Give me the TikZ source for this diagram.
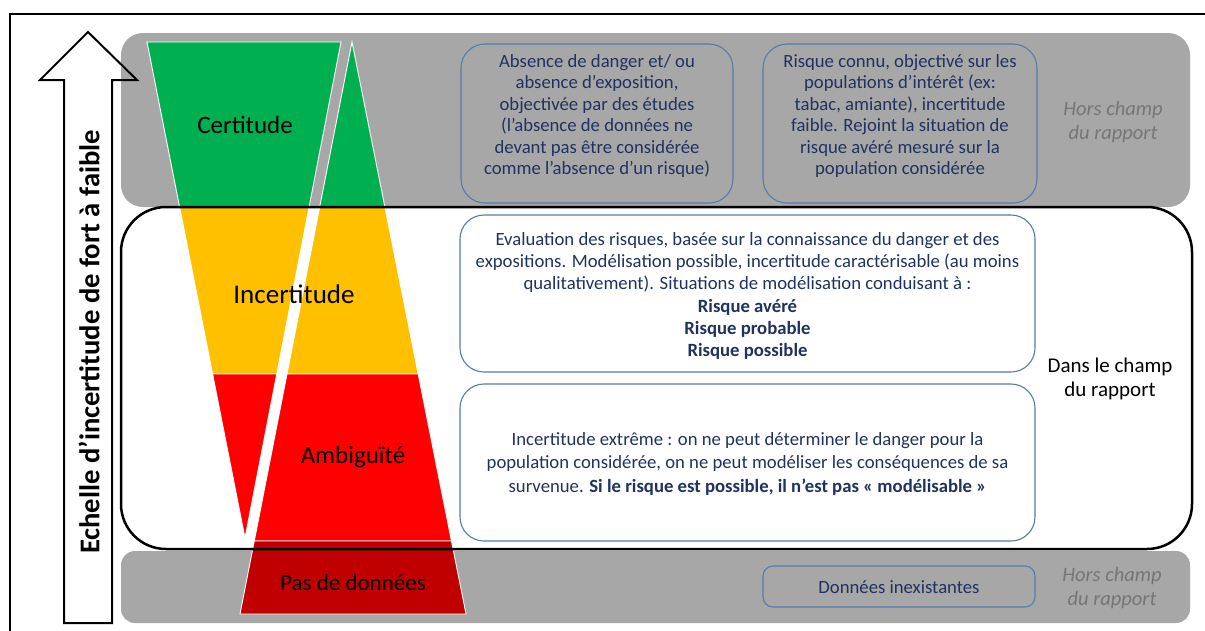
\documentclass[tikz,border=0pt]{standalone}
\usepackage{fontspec}
\setmainfont{Carlito}
\usetikzlibrary{calc}
\definecolor{bandgray}{RGB}{167,167,167}
\definecolor{navy}{RGB}{31,50,96}
\definecolor{boxblue}{RGB}{84,124,172}
\definecolor{hcgray}{RGB}{118,118,118}
\definecolor{cgreen}{RGB}{0,176,80}
\definecolor{cyellow}{RGB}{255,192,0}
\definecolor{cred}{RGB}{255,0,0}
\definecolor{cdred}{RGB}{192,0,0}
\begin{document}
\begin{tikzpicture}[x=1pt,y=-1pt,
  boxtxt/.style={text=navy, font=\fontsize{18.7}{21.5}\selectfont, align=center, inner sep=0pt},
  infobox/.style={draw=boxblue, line width=1.1pt, rounded corners=24pt},
  seg/.style={draw=white, line width=0.9pt},
  lvl/.style={inner sep=0pt, text=black},
  hors/.style={text=hcgray, font=\fontsize{20.5}{23.5}\selectfont\itshape, align=center},
]
\useasboundingbox (0,0) rectangle (1205,630);
\fill[white] (0,0) rectangle (1205,630);
% outer frame
\draw[line width=2.4pt] (10,660) -- (10,14) -- (1240,14);
% gray bands
\fill[bandgray, rounded corners=22pt] (121,33) rectangle (1190,207);
\fill[bandgray, rounded corners=14pt] (121,551) rectangle (1190,623);
% key points of the two funnel shapes
\coordinate (LTL) at (147,42);
\coordinate (LTR) at (341,42);
\coordinate (LAP) at (245,538);
\coordinate (RAP) at (352,42);
\coordinate (RBL) at (240,614);
\coordinate (RBR) at (466,614);
% left shape (pointing down)
\path[seg, fill=cgreen] (LTL) -- (LTR) -- ($(LTR)!0.33266!(LAP)$) -- ($(LTL)!0.33266!(LAP)$) -- cycle;
\path[seg, fill=cyellow] ($(LTL)!0.33266!(LAP)$) -- ($(LTR)!0.33266!(LAP)$) -- ($(LTR)!0.66935!(LAP)$) -- ($(LTL)!0.66935!(LAP)$) -- cycle;
\path[seg, fill=cred] ($(LTL)!0.66935!(LAP)$) -- ($(LTR)!0.66935!(LAP)$) -- (LAP) -- cycle;
% right shape (pointing up)
\path[seg, fill=cgreen] (RAP) -- ($(RAP)!0.28846!(RBR)$) -- ($(RAP)!0.28846!(RBL)$) -- cycle;
\path[seg, fill=cyellow] ($(RAP)!0.28846!(RBL)$) -- ($(RAP)!0.28846!(RBR)$) -- ($(RAP)!0.58042!(RBR)$) -- ($(RAP)!0.58042!(RBL)$) -- cycle;
\path[seg, fill=cred] ($(RAP)!0.58042!(RBL)$) -- ($(RAP)!0.58042!(RBR)$) -- ($(RAP)!0.87238!(RBR)$) -- ($(RAP)!0.87238!(RBL)$) -- cycle;
\path[seg, fill=cdred] ($(RAP)!0.87238!(RBL)$) -- ($(RAP)!0.87238!(RBR)$) -- (RBR) -- (RBL) -- cycle;
% level labels
\node[lvl, font=\fontsize{25}{30}\selectfont] (certitude) at (245,125) {Certitude};
\node[lvl, font=\fontsize{27}{32}\selectfont] (incertitude) at (294,294) {Incertitude};
\node[lvl, font=\fontsize{25}{30}\selectfont] (ambiguite) at (353,457) {Ambiguïté};
\node[lvl, font=\fontsize{23}{28}\selectfont] (pasdonnees) at (353,583) {Pas de données};
% in-scope rounded frame
\draw[line width=2.5pt, rounded corners=45pt] (121,207) rectangle (1192,549);
% scale arrow
\draw[line width=2pt, line join=miter] (64,623) -- (64,80) -- (40,80) -- (88,32) -- (137,80) -- (112,80) -- (112,623) -- cycle;
\node[rotate=90, font=\fontsize{28.6}{32}\selectfont\bfseries, inner sep=0pt] (echelle) at (89,342) {Echelle d’incertitude de fort à faible};
% info boxes
\node[infobox, minimum width=272pt, minimum height=159pt] (b1) at (597,123.5) {};
\node[boxtxt] (t1) at (597,116)
 {Absence de danger et/ ou\\absence d’exposition,\\objectivée par des études\\(l’absence de données ne\\devant pas être considérée\\comme l’absence d’un risque)};
\node[infobox, minimum width=274pt, minimum height=159pt] (b2) at (900,123.5) {};
\node[boxtxt] (t2) at (900,116)
 {Risque connu, objectivé sur les\\populations d’intérêt (ex:\\tabac, amiante), incertitude\\faible. Rejoint la situation de\\risque avéré mesuré sur la\\population considérée};
\node[infobox, fill=white, minimum width=575pt, minimum height=157pt] (b3) at (747.5,293.5) {};
\node[boxtxt, font=\fontsize{18.7}{22.2}\selectfont] (t3) at (747.5,296)
 {Evaluation des risques, basée sur la connaissance du danger et des\\expositions. Modélisation possible, incertitude caractérisable (au moins\\qualitativement). Situations de modélisation conduisant à :\\\textbf{Risque avéré}\\\textbf{Risque probable}\\\textbf{Risque possible}};
\node[infobox, fill=white, minimum width=575pt, minimum height=157pt] (b4) at (747.5,462.5) {};
\node[boxtxt, font=\fontsize{18.7}{23.5}\selectfont] (t4) at (747.5,463.5)
 {Incertitude extrême : on ne peut déterminer le danger pour la\\population considérée, on ne peut modéliser les conséquences de sa\\survenue. \textbf{Si le risque est possible, il n’est pas « modélisable »}};
\node[infobox, rounded corners=10pt, minimum width=272pt, minimum height=41pt] (b5) at (899,586.5) {};
\node[boxtxt] (t5) at (899,587) {Données inexistantes};
% side labels
\node[hors] (hc1) at (1113,122) {Hors champ\\du rapport};
\node[font=\fontsize{21}{24}\selectfont, align=center] (dans) at (1110,379) {Dans le champ\\du rapport};
\node[hors] (hc2) at (1112,588) {Hors champ\\du rapport};
\end{tikzpicture}
\end{document}
